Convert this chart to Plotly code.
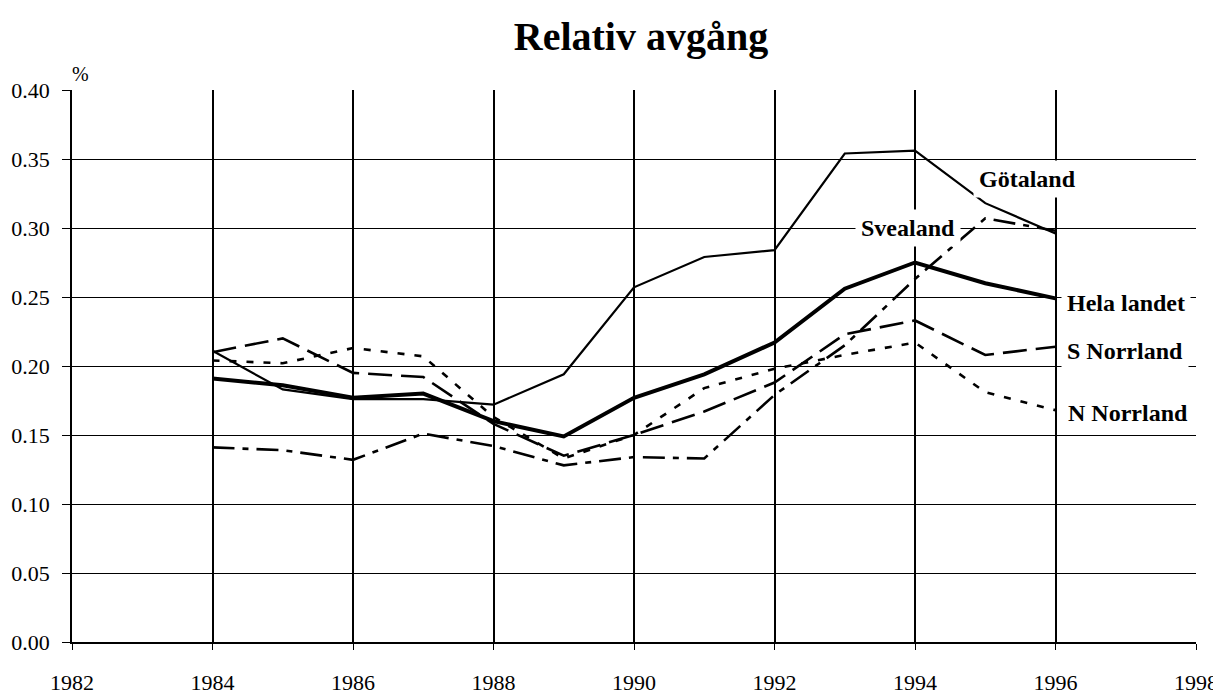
import plotly.graph_objects as go

years = list(range(1984, 1997))
hela_landet = [0.191, 0.186, 0.177, 0.180, 0.160, 0.149, 0.177, 0.194, 0.217, 0.256, 0.275, 0.260, 0.249]
gotaland = [0.211, 0.183, 0.176, 0.176, 0.172, 0.194, 0.257, 0.279, 0.284, 0.354, 0.356, 0.318, 0.296]
svealand = [0.141, 0.139, 0.132, 0.151, 0.142, 0.128, 0.134, 0.133, 0.179, 0.215, 0.263, 0.307, 0.298]
s_norrland = [0.210, 0.220, 0.195, 0.192, 0.158, 0.135, 0.150, 0.167, 0.188, 0.223, 0.233, 0.208, 0.214]
n_norrland = [0.204, 0.202, 0.213, 0.207, 0.163, 0.133, 0.150, 0.184, 0.198, 0.208, 0.217, 0.181, 0.168]

x_ticks = list(range(1982, 1999, 2))
y_ticks = [0.00, 0.05, 0.10, 0.15, 0.20, 0.25, 0.30, 0.35, 0.40]

FONT = "Liberation Serif"

OFF = 8  # page body margin
W, H = 1221 - OFF, 694 - OFF
L, R, T, B = 72 - OFF, 1196 - OFF, 90 - OFF, 642 - OFF

fig = go.Figure()
series = [
    ("Götaland", gotaland, dict(color="black", width=2.2, dash="solid")),
    ("S Norrland", s_norrland, dict(color="black", width=2.6, dash="24px,9px")),
    ("N Norrland", n_norrland, dict(color="black", width=2.6, dash="7px,10px")),
    ("Svealand", svealand, dict(color="black", width=2.6, dash="22px,8px,6px,8px")),
    ("Hela landet", hela_landet, dict(color="black", width=4, dash="solid")),
]
for name, vals, line in series:
    fig.add_trace(go.Scatter(x=years, y=vals, mode="lines", name=name, line=line,
                             showlegend=False))

def px_to_x(px):
    return 1982 + (px - OFF - L) / ((R - L) / 16)

def py_to_y(py):
    return (B - (py - OFF)) / ((B - T) / 0.40)

labels = [
    ("Götaland", 1027, 179, "center"),
    ("Svealand", 908, 228, "center"),
    ("Hela landet", 1061, 303, "left"),
    ("S Norrland", 1061, 351, "left"),
    ("N Norrland", 1062, 413, "left"),
]
for text, px, py, anchor in labels:
    fig.add_annotation(x=px_to_x(px), y=py_to_y(py), xref="x", yref="y", text=text,
                       showarrow=False, xanchor=anchor, yanchor="middle",
                       font=dict(family=FONT, size=24, color="black", weight="bold"),
                       bgcolor="white", borderpad=5)

fig.add_annotation(x=(70 - OFF - L) / (R - L), y=(B - (61 - OFF)) / (B - T),
                   xref="paper", yref="paper", text="%", showarrow=False,
                   font=dict(family=FONT, size=20, color="black"))

fig.update_layout(
    width=W, height=H,
    margin=dict(l=L, r=W - R, t=T, b=H - B, autoexpand=False),
    paper_bgcolor="white", plot_bgcolor="white",
    title=dict(text="<b>Relativ avgång</b>", x=(641 - OFF) / W, xanchor="center",
               y=1 - (36 - OFF) / H, yanchor="middle",
               font=dict(family=FONT, size=40, color="black")),
    font=dict(family=FONT, size=22, color="black"),
)
fig.update_xaxes(range=[1982, 1998], tickvals=x_ticks, ticktext=[str(v) for v in x_ticks],
                 showgrid=True, gridcolor="black", gridwidth=1.5,
                 showline=True, linecolor="black", linewidth=1.5,
                 ticks="outside", ticklen=6, tickcolor="black",
                 ticklabelstandoff=14, zeroline=False, automargin=False,
                 tickfont=dict(family=FONT, size=22, color="black"))
fig.update_yaxes(range=[0, 0.40], tickvals=y_ticks, ticktext=[f"{v:.2f}" for v in y_ticks],
                 showgrid=True, gridcolor="black", gridwidth=1,
                 showline=True, linecolor="black", linewidth=1.5,
                 ticks="outside", ticklen=8, tickcolor="black",
                 ticklabelstandoff=8, zeroline=False, automargin=False,
                 tickfont=dict(family=FONT, size=22, color="black"))

fig.write_html("out.html")
